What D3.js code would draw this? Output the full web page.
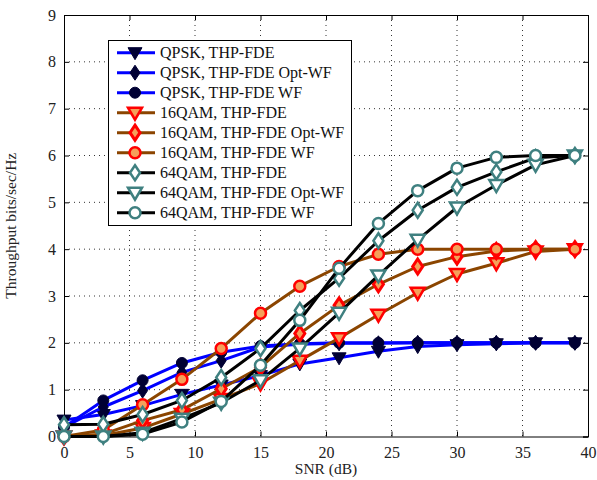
<!DOCTYPE html>
<html><head><meta charset="utf-8">
<script src="https://cdn.jsdelivr.net/npm/d3@7"></script>
<style>body{margin:0;background:#fff}</style>
</head><body>
<svg id="c" width="597" height="480"></svg>
<script>
const snr = [0,3,6,9,12,15,18,21,24,27,30,33,36,39];
const qpskThp   = [0.35,0.47,0.66,0.90,1.10,1.30,1.55,1.68,1.82,1.92,1.96,1.98,2.00,2.00];
const qpskOpt   = [0.20,0.63,0.98,1.37,1.62,1.91,1.97,1.99,1.99,2.00,2.00,2.00,2.00,2.00];
const qpskWf    = [0.20,0.77,1.20,1.57,1.80,1.93,1.98,2.00,2.00,2.00,2.00,2.00,2.00,2.00];
const qam16Thp  = [0.00,0.02,0.18,0.48,0.80,1.13,1.62,2.10,2.60,3.07,3.47,3.70,3.95,4.00];
const qam16Opt  = [0.00,0.05,0.34,0.57,1.02,1.48,2.20,2.80,3.25,3.63,3.84,3.96,4.00,4.00];
const qam16Wf   = [0.00,0.14,0.68,1.22,1.88,2.63,3.21,3.63,3.89,4.00,4.00,4.00,4.00,4.00];
const qam64Thp  = [0.25,0.26,0.47,0.77,1.26,1.88,2.69,3.38,4.18,4.83,5.32,5.65,5.95,6.00];
const qam64Opt  = [0.00,0.00,0.08,0.38,0.72,1.20,1.88,2.64,3.44,4.20,4.89,5.37,5.80,6.00];
const qam64Wf   = [0.00,0.00,0.05,0.31,0.75,1.52,2.48,3.59,4.55,5.25,5.73,5.96,6.00,6.00];
const seriesNames = ["QPSK, THP-FDE","QPSK, THP-FDE Opt-WF","QPSK, THP-FDE WF",
  "16QAM, THP-FDE","16QAM, THP-FDE Opt-WF","16QAM, THP-FDE WF",
  "64QAM, THP-FDE","64QAM, THP-FDE Opt-WF","64QAM, THP-FDE WF"];
const seriesValues = [qpskThp,qpskOpt,qpskWf,qam16Thp,qam16Opt,qam16Wf,qam64Thp,qam64Opt,qam64Wf];
const xTicks = [0,5,10,15,20,25,30,35,40];
const yTicks = [0,1,2,3,4,5,6,7,8,9];

const styles = [
  {line:"#0000ff", shape:"tri", fill:"#000033", stroke:"#000033", sw:1},
  {line:"#0000ff", shape:"dia", fill:"#000033", stroke:"#000033", sw:1},
  {line:"#0000ff", shape:"cir", fill:"#000033", stroke:"#000033", sw:1},
  {line:"#8b4500", shape:"tri", fill:"#f5a05a", stroke:"#ff0000", sw:2.5},
  {line:"#8b4500", shape:"dia", fill:"#f5a05a", stroke:"#ff0000", sw:3},
  {line:"#8b4500", shape:"cir", fill:"#f5a05a", stroke:"#ff0000", sw:2.5},
  {line:"#000000", shape:"dia", fill:"#ffffff", stroke:"#3f8080", sw:2.5},
  {line:"#000000", shape:"tri", fill:"#ffffff", stroke:"#3f8080", sw:2.5},
  {line:"#000000", shape:"cir", fill:"#ffffff", stroke:"#3f8080", sw:2.5}
];

const L=64,R=588,T=15,B=436.5;
const x = d3.scaleLinear().domain([0,40]).range([L,R]);
const y = d3.scaleLinear().domain([0,9]).range([B,T]);
const svg = d3.select("#c");
const font = "Liberation Serif, Times New Roman, serif";

// grid
const g = svg.append("g");
g.selectAll(".gx").data(xTicks.slice(1,-1)).enter().append("line")
 .attr("x1",d=>x(d)).attr("x2",d=>x(d)).attr("y1",T).attr("y2",B)
 .attr("stroke","#333").attr("stroke-width",1).attr("stroke-dasharray","1,4");
g.selectAll(".gy").data(yTicks.slice(1,-1)).enter().append("line")
 .attr("y1",d=>y(d)).attr("y2",d=>y(d)).attr("x1",L).attr("x2",R)
 .attr("stroke","#333").attr("stroke-width",1).attr("stroke-dasharray","1,4");

// axes
const xa = svg.append("g").attr("transform",`translate(0,${B})`)
  .call(d3.axisBottom(x).tickValues(xTicks).tickSize(-5).tickPadding(10));
const xa2 = svg.append("g").attr("transform",`translate(0,${T})`)
  .call(d3.axisTop(x).tickValues(xTicks).tickSize(-5).tickFormat(""));
const ya = svg.append("g").attr("transform",`translate(${L},0)`)
  .call(d3.axisLeft(y).tickValues(yTicks).tickSize(-5).tickPadding(8));
const ya2 = svg.append("g").attr("transform",`translate(${R},0)`)
  .call(d3.axisRight(y).tickValues(yTicks).tickSize(-5).tickFormat(""));
[xa,xa2,ya,ya2].forEach(a=>{
  a.selectAll("path").attr("stroke","#000").attr("stroke-width",1);
  a.selectAll("line").attr("stroke","#000");
  a.selectAll("text").attr("font-family",font).attr("font-size",16).attr("fill","#222");
});

function marker(sel, st, cx, cy){
  let el;
  if(st.shape==="cir"){
    el = sel.append("circle").attr("cx",cx).attr("cy",cy).attr("r",5.5);
  } else if(st.shape==="dia"){
    el = sel.append("path").attr("d",`M${cx},${cy-7.5}L${cx+5},${cy}L${cx},${cy+7.5}L${cx-5},${cy}Z`);
  } else {
    el = sel.append("path").attr("d",`M${cx-7},${cy-5}L${cx+7},${cy-5}L${cx},${cy+7}Z`);
  }
  el.attr("fill",st.fill).attr("stroke",st.stroke).attr("stroke-width",st.sw).attr("stroke-linejoin","miter");
}

const line = d3.line().x((d,i)=>x(snr[i])).y(d=>y(d));
const plot = svg.append("g");
seriesValues.forEach((vals,k)=>{
  const st = styles[k];
  plot.append("path").attr("d",line(vals)).attr("fill","none")
    .attr("stroke",st.line).attr("stroke-width",3).attr("stroke-linejoin","round");
  vals.forEach((v,i)=>marker(plot, st, x(snr[i]), y(v)));
});

// legend
const lg = svg.append("g");
lg.append("rect").attr("x",108.5).attr("y",40.5).attr("width",243).attr("height",185)
  .attr("fill","#fff").attr("stroke","#000").attr("stroke-width",1);
seriesNames.forEach((n,k)=>{
  const cy = 52.7 + k*20;
  const st = styles[k];
  lg.append("line").attr("x1",117).attr("x2",155).attr("y1",cy).attr("y2",cy)
    .attr("stroke",st.line).attr("stroke-width",3);
  marker(lg, st, 135, cy);
  lg.append("text").attr("x",160).attr("y",cy+5.5).text(n)
    .attr("font-family",font).attr("font-size",16).attr("fill","#111");
});

// labels
svg.append("text").attr("x",(L+R)/2).attr("y",474).attr("text-anchor","middle")
  .attr("font-family",font).attr("font-size",15.5).attr("fill","#222").text("SNR (dB)");
svg.append("text").attr("transform",`translate(16,${(T+B)/2}) rotate(-90)`)
  .attr("text-anchor","middle").attr("font-family",font).attr("font-size",15.5)
  .attr("fill","#222").text("Throughput bits/sec/Hz");
</script>
</body></html>
